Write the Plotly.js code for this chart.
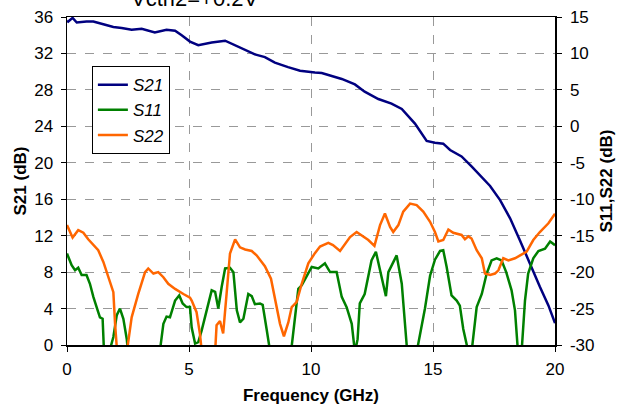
<!DOCTYPE html>
<html>
<head>
<meta charset="utf-8">
<script src="https://cdn.plot.ly/plotly-3.0.1.min.js"></script>
<style>
html,body{margin:0;padding:0;background:#fff;}
#chart{width:630px;height:405px;}
</style>
</head>
<body>
<div id="chart"></div>
<script>
// ---- data ----
const chartTitle = "Vctrl2=+0.2V";
const seriesNames = ["S21", "S11", "S22"];

const s21Freq = [0, 0.05, 0.23, 0.4, 0.8, 1.08, 1.49, 1.9, 2.24, 2.65, 3.06, 3.6, 4.08, 4.43, 4.7, 5.04, 5.38, 5.93, 6.48, 6.89, 7.36, 7.7, 8.11, 8.52, 9.06, 9.55, 10.16, 10.44, 11.26, 11.8, 12.2, 12.76, 13.3, 13.72, 14.26, 14.74, 15.08, 15.42, 15.7, 16.17, 16.58, 16.93, 17.34, 17.75, 18.16, 18.56, 18.97, 19.38, 19.73, 20];
const s21Val  = [35.6, 35.5, 35.9, 35.4, 35.5, 35.5, 35.2, 34.9, 34.8, 34.6, 34.7, 34.3, 34.6, 34.5, 34.0, 33.3, 32.9, 33.2, 33.4, 32.9, 32.4, 31.9, 31.6, 31.0, 30.5, 30.1, 29.9, 29.85, 29.2, 28.6, 27.8, 27.0, 26.5, 25.9, 24.3, 22.4, 22.2, 22.1, 21.4, 20.7, 19.6, 18.6, 17.45, 15.9, 13.9, 11.5, 8.9, 6.4, 4.35, 2.4];

const s11Freq = [0, 0.19, 0.33, 0.46, 0.6, 0.8, 0.94, 1.08, 1.28, 1.35, 1.46, 1.55, 1.63, 1.73, 1.9, 2.04, 2.17, 2.31, 2.45, 2.5, 3.15, 3.8, 3.95, 4.08, 4.22, 4.43, 4.6, 4.74, 4.9, 5.04, 5.11, 5.25, 5.38, 5.52, 5.72, 5.93, 6.07, 6.2, 6.34, 6.48, 6.68, 6.82, 6.96, 7.09, 7.23, 7.43, 7.57, 7.7, 7.91, 8.02, 8.18, 8.32, 8.75, 9.18, 9.34, 9.48, 9.62, 9.89, 10.03, 10.3, 10.57, 10.78, 11.05, 11.26, 11.46, 11.67, 11.8, 11.91, 12.0, 12.2, 12.48, 12.66, 12.87, 13.07, 13.17, 13.33, 13.51, 13.72, 13.99, 14.16, 14.33, 14.47, 14.67, 14.88, 15.08, 15.29, 15.42, 15.56, 15.76, 15.97, 16.1, 16.24, 16.45, 16.52, 16.58, 16.79, 17.0, 17.2, 17.4, 17.61, 17.81, 18.0, 18.22, 18.36, 18.5, 18.57, 18.63, 18.77, 18.9, 19.11, 19.32, 19.59, 19.8, 20];
const s11Val  = [-17.45, -19.05, -19.75, -19.4, -20.4, -20.4, -21.6, -23.4, -25.5, -26.2, -26.4, -31, -40, -31, -28.9, -25.9, -25.0, -26.4, -29.2, -31, -40, -31, -27.1, -26.1, -26.2, -23.9, -23.2, -24.3, -24.8, -24.8, -27.6, -29.8, -29.6, -28.0, -25.25, -22.5, -22.7, -25.0, -22.0, -19.5, -19.4, -20.0, -25.25, -26.9, -26.4, -23.0, -23.3, -24.4, -24.3, -24.5, -27.8, -31, -40, -31, -26.2, -22.3, -21.8, -20.2, -19.3, -19.5, -18.8, -20.0, -20.0, -23.4, -24.8, -27.1, -31, -29.2, -24.3, -23.0, -18.4, -17.2, -20.2, -23.3, -20.0, -18.8, -17.7, -21.6, -31, -40, -31, -28.7, -25.0, -20.5, -18.3, -17.1, -17.0, -19.3, -23.2, -23.9, -24.6, -27.8, -31, -35, -31, -24.8, -23.0, -20.2, -18.4, -18.1, -18.4, -20.0, -22.5, -25.25, -31, -35, -31, -23.9, -20.2, -18.1, -17.1, -16.8, -15.8, -16.3];

const s22Freq = [0, 0.23, 0.46, 0.67, 0.87, 1.08, 1.28, 1.49, 1.69, 1.9, 1.97, 2.06, 2.25, 2.45, 2.65, 2.92, 3.2, 3.33, 3.54, 3.74, 3.95, 4.15, 4.43, 4.77, 5.04, 5.11, 5.31, 5.45, 5.52, 5.8, 6.07, 6.13, 6.27, 6.4, 6.54, 6.68, 6.89, 7.09, 7.3, 7.57, 7.77, 8.11, 8.36, 8.52, 8.73, 8.89, 9.07, 9.21, 9.41, 9.62, 9.89, 10.16, 10.37, 10.71, 10.9, 11.19, 11.39, 11.6, 11.87, 12.15, 12.35, 12.6, 12.83, 13.03, 13.24, 13.37, 13.58, 13.78, 14.06, 14.33, 14.6, 14.88, 15.08, 15.22, 15.42, 15.63, 15.83, 16.17, 16.31, 16.45, 16.58, 16.79, 17.0, 17.13, 17.34, 17.54, 17.68, 17.88, 18.09, 18.36, 18.56, 18.84, 19.11, 19.38, 19.73, 20];
const s22Val  = [-13.55, -15.25, -14.24, -14.6, -15.5, -16.3, -17.0, -18.6, -20.7, -22.75, -27.1, -31, -40, -31, -26.2, -23.0, -20.0, -19.5, -20.2, -20.0, -20.7, -21.6, -22.3, -23.0, -23.5, -23.9, -25.5, -28.5, -31, -40, -31, -27.3, -26.7, -28.4, -23.0, -17.45, -15.5, -16.6, -16.9, -17.1, -17.7, -19.2, -20.9, -23.4, -27.1, -28.8, -26.9, -24.8, -24.1, -21.6, -18.8, -17.4, -16.5, -16.0, -16.3, -17.1, -16.1, -15.2, -14.5, -15.2, -15.6, -16.4, -13.55, -11.95, -13.8, -14.5, -13.55, -11.7, -10.6, -10.8, -11.7, -13.1, -14.5, -15.8, -15.6, -14.15, -14.6, -14.9, -15.5, -15.1, -15.4, -17.0, -18.1, -20.2, -20.4, -20.2, -19.75, -18.1, -18.4, -18.1, -17.7, -17.2, -15.6, -14.5, -13.3, -12.0];

const xTicks  = [0, 5, 10, 15, 20];
const y1Ticks = [0, 4, 8, 12, 16, 20, 24, 28, 32, 36];
const y2Ticks = [-30, -25, -20, -15, -10, -5, 0, 5, 10, 15];

// ---- chart ----
const FONT = "Liberation Sans, Arial, sans-serif";
const traces = [
  {x: s21Freq, y: s21Val, name: seriesNames[0], type: "scatter", mode: "lines",
   line: {color: "#000080", width: 2.5}, yaxis: "y"},
  {x: s11Freq, y: s11Val, name: seriesNames[1], type: "scatter", mode: "lines",
   line: {color: "#008000", width: 2.5}, yaxis: "y2"},
  {x: s22Freq, y: s22Val, name: seriesNames[2], type: "scatter", mode: "lines",
   line: {color: "#FF6600", width: 2.5}, yaxis: "y2"}
];

const layout = {
  width: 630, height: 405,
  margin: {l: 67, r: 75, t: 17, b: 60, pad: 0},
  paper_bgcolor: "#ffffff", plot_bgcolor: "#ffffff",
  font: {family: FONT, size: 17, color: "#000"},
  showlegend: true,
  legend: {
    x: 0.051, y: 0.85, xanchor: "left", yanchor: "top",
    bgcolor: "#ffffff", bordercolor: "#000", borderwidth: 1,
    font: {family: FONT, size: 17, color: "#000", style: "italic"},
    tracegroupgap: 0, itemwidth: 30
  },
  xaxis: {
    range: [0, 20], tickvals: xTicks, ticktext: xTicks.map(String),
    showline: true, linecolor: "#000", linewidth: 1.5, mirror: true,
    ticks: "outside", ticklen: 5, tickcolor: "#000", tickwidth: 1,
    ticklabelstandoff: 3,
    showgrid: true, gridcolor: "#999", griddash: "dash", gridwidth: 1,
    zeroline: false,
    title: {text: "<b>Frequency (GHz)</b>", font: {family: FONT, size: 17}, standoff: 11},
    automargin: false
  },
  yaxis: {
    range: [0, 36], tickvals: y1Ticks, ticktext: y1Ticks.map(String),
    showline: true, linecolor: "#000", linewidth: 1.5,
    ticks: "outside", ticklen: 5, tickcolor: "#000", tickwidth: 1,
    ticklabelstandoff: 4,
    showgrid: true, gridcolor: "#999", griddash: "dash", gridwidth: 1,
    zeroline: false,
    title: {text: "<b>S21 (dB)</b>", font: {family: FONT, size: 17}, standoff: 3},
    automargin: false
  },
  yaxis2: {
    range: [-30, 15], tickvals: y2Ticks, ticktext: y2Ticks.map(String),
    overlaying: "y", side: "right",
    showline: true, linecolor: "#000", linewidth: 1.5,
    ticks: "outside", ticklen: 5, tickcolor: "#000", tickwidth: 1,
    ticklabelstandoff: 5,
    showgrid: false, zeroline: false,
    title: {text: "<b>S11,S22 (dB)</b>", font: {family: FONT, size: 17}, standoff: 6},
    automargin: false
  },
  annotations: [{
    text: chartTitle, xref: "paper", yref: "paper", x: 0.262, y: 1,
    xanchor: "center", yanchor: "bottom", yshift: 4, showarrow: false,
    font: {family: FONT, size: 22, color: "#000"}
  }]
};

Plotly.newPlot("chart", traces, layout, {displayModeBar: false, staticPlot: true});
</script>
</body>
</html>
